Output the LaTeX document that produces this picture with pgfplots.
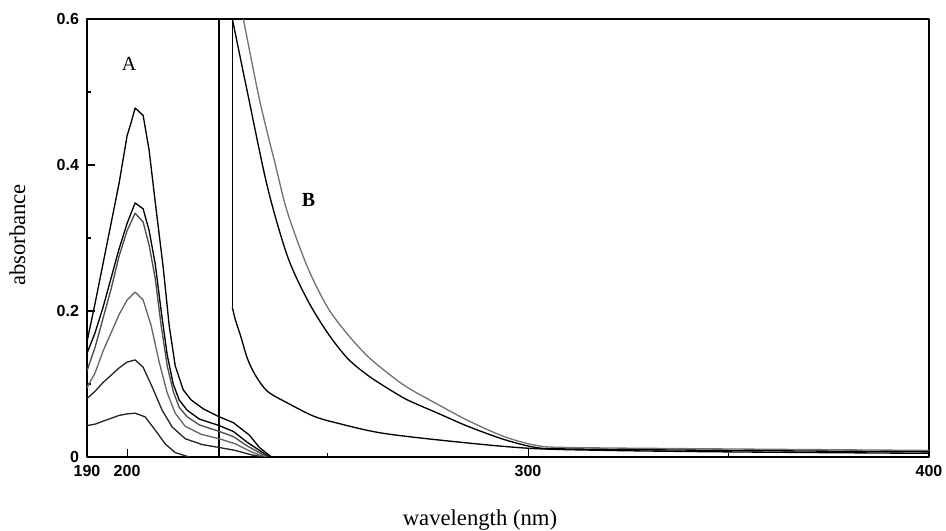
\documentclass[border=0pt]{standalone}
\usepackage{pgfplots}
\pgfplotsset{compat=1.18}
\usepackage{fontspec}
\setmainfont{Liberation Serif}
\newfontfamily\tickfont{Liberation Sans}
\begin{document}
\begin{tikzpicture}
\path[use as bounding box] (0,0) rectangle (709.5pt,398.25pt);
\begin{axis}[
 at={(65.25pt,55.5pt)}, anchor=south west,
 scale only axis, width=631.5pt, height=328.5pt,
 xmin=190, xmax=400, ymin=0, ymax=0.6,
 xtick={190,200,300,400}, xticklabels={190,200,300,400}, minor xtick={250,350},
 ytick={0,0.2,0.4,0.6}, yticklabels={0,0.2,0.4,0.6}, minor ytick={0.1,0.3,0.5},
 tick pos=left, tick align=inside,
 major tick length=6pt, minor tick length=3pt,
 axis line style={line width=0.8pt},
 every tick/.style={black, line width=0.8pt},
 /pgf/number format/assume math mode=true,
 ticklabel style={font=\tickfont\bfseries\fontsize{12}{13}\selectfont},
 xticklabel style={yshift=-3pt},
 yticklabel style={xshift=-2.5pt},
 xlabel={wavelength (nm)}, ylabel={absorbance},
 label style={font=\fontsize{17}{20}\selectfont},
 xlabel style={at={(axis description cs:0.4667,-0.1575)}, anchor=base},
 ylabel style={at={(axis description cs:-0.0736,0.507)}, anchor=base},
 no markers, line join=round,
]
% vertical trace at 223 nm
\addplot[black, line width=1.4pt] coordinates {(223,0) (223,0.6)};
% A curves
\addplot[black, line width=1pt] coordinates {
(190,0.158) (192,0.21) (194,0.265) (196,0.32) (198,0.375) (200,0.44) (201,0.458) (202,0.478) (204,0.468)
(205.5,0.42) (207,0.35) (209,0.26) (210.5,0.18) (212,0.125) (214,0.092) (216,0.078) (219,0.066)
(223,0.055) (226.5,0.047) (230.5,0.03) (233,0.013) (236,0)};
\addplot[black, line width=1pt] coordinates {
(190,0.142) (192,0.17) (194,0.205) (196,0.245) (198,0.285) (200,0.32) (202,0.348) (204,0.34)
(205.5,0.31) (207,0.265) (208.5,0.2) (210,0.14) (211.5,0.1) (213,0.078) (215,0.064) (218,0.052)
(223,0.043) (226.5,0.035) (230,0.02) (235.5,0)};
\addplot[black!70, line width=1pt] coordinates {
(190,0.118) (192,0.15) (194,0.19) (196,0.23) (198,0.275) (200,0.31) (202,0.334) (204,0.322)
(205.5,0.29) (207,0.245) (208.5,0.18) (210,0.125) (211.5,0.09) (213,0.068) (215,0.055) (218,0.044)
(223,0.035) (226.5,0.028) (230,0.015) (235,0)};
\addplot[black!60, line width=1pt] coordinates {
(190,0.095) (192,0.115) (194,0.145) (196,0.17) (198,0.195) (200,0.215) (202,0.226) (204,0.215)
(206,0.18) (208,0.13) (210,0.088) (212,0.06) (214.5,0.042) (218.5,0.031) (223,0.025)
(227,0.018) (231,0.007) (234.5,0)};
\addplot[black!85, line width=1pt] coordinates {
(190,0.08) (192,0.09) (194,0.102) (196,0.112) (198,0.122) (200,0.13) (202,0.133) (204,0.123)
(206.25,0.096) (208.75,0.064) (211.25,0.041) (214.5,0.025) (218.75,0.017) (223,0.013)
(227,0.009) (231,0.003) (234,0)};
\addplot[black!85, line width=1pt] coordinates {
(190,0.043) (192,0.045) (194,0.049) (196,0.053) (198,0.057) (200,0.059) (202,0.06) (204.5,0.055)
(207,0.037) (209.5,0.018) (212,0.006) (215.5,0)};
% B curves
\addplot[black!55, line width=1pt, smooth, tension=0.5] coordinates {
(229,0.6) (233,0.49) (237,0.4) (240,0.335) (245,0.26) (250,0.205) (255,0.168) (260,0.138)
(265,0.115) (270,0.095) (277.5,0.072) (285,0.05) (294,0.028) (302,0.016) (310,0.013)
(350,0.011) (400,0.009)};
\addplot[black, line width=1pt, smooth, tension=0.5] coordinates {
(226.25,0.6) (230,0.5) (235,0.37) (240,0.275) (245,0.215) (250,0.17) (255,0.135) (260,0.112)
(265,0.094) (270,0.078) (277.5,0.06) (285,0.042) (294,0.024) (302,0.013) (310,0.011)
(350,0.009) (400,0.007)};
\addplot[black, line width=1pt] coordinates {(226.25,0.6) (226.25,0.205)};
\addplot[black, line width=1pt, smooth, tension=0.5] coordinates {
(226.25,0.205) (227,0.188) (228.25,0.167) (230,0.135) (232,0.112) (235,0.09)
(240,0.074) (246.5,0.056) (252,0.047) (263.25,0.033) (280,0.022) (300,0.012) (320,0.009)
(350,0.007) (400,0.005)};
\node[font=\fontsize{15}{18}\selectfont] at (axis cs:200.5,0.538) {A};
\node[font=\bfseries\fontsize{15}{18}\selectfont] at (axis cs:245.25,0.352) {B};
\end{axis}
\end{tikzpicture}
\end{document}
